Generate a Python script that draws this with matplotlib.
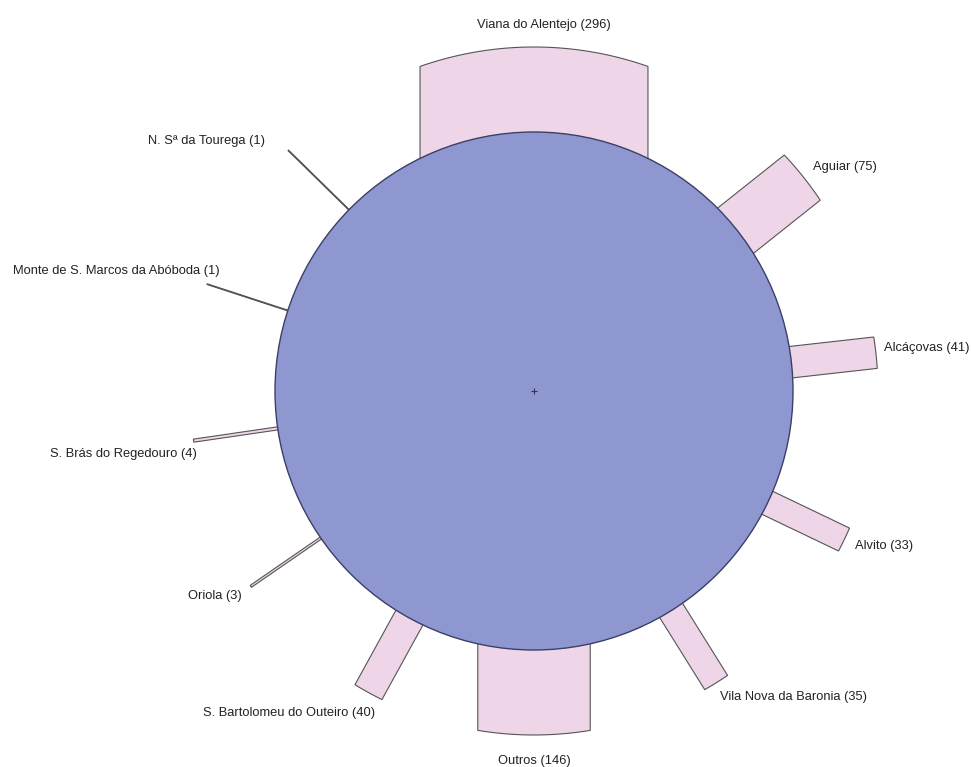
import numpy as np
import matplotlib
matplotlib.use('Agg')
import matplotlib.pyplot as plt
from matplotlib.patches import Polygon, Circle

# ==============================
# データ
# ==============================
labels = ['Viana do Alentejo', 'Aguiar', 'Alcáçovas', 'Alvito',
          'Vila Nova da Baronia', 'Outros', 'S. Bartolomeu do Outeiro',
          'Oriola', 'S. Brás do Regedouro', 'Monte de S. Marcos da Abóboda',
          'N. Sª da Tourega']
values = [296, 75, 41, 33, 35, 146, 40, 3, 4, 1, 1]

# 各バーの方向（度, 反時計回り, 0 = 右）
angles = [90, 38.5, 6.4, -25.6, -58, -90, -118.8, -145.4, -171.7, 161.9, 135.6]

# ラベル位置 (x, y, ha) ピクセル座標
label_pos = [
    (544, 25, 'center'),
    (813, 167, 'left'),
    (884, 348, 'left'),
    (855, 546, 'left'),
    (720, 697, 'left'),
    (534, 761, 'center'),
    (375, 713, 'right'),
    (242, 596, 'right'),
    (197, 454, 'right'),
    (220, 271, 'right'),
    (265, 141, 'right'),
]

# ==============================
# レイアウト
# ==============================
W, H = 971, 767
CX, CY = 534, 391
R_IN = 259
R_OUT = 344
PX_PER_UNIT = 0.77

CIRCLE_FC = '#8E97D0'
CIRCLE_EC = '#3B3F66'
BAR_FC = '#EED6E8'
BAR_EC = '#555555'
FS = 9.3

fig = plt.figure(figsize=(W / 100, H / 100), dpi=100)
ax = fig.add_axes([0, 0, 1, 1])
ax.set_xlim(0, W)
ax.set_ylim(H, 0)
ax.set_aspect('equal')
ax.axis('off')
fig.patch.set_facecolor('white')


def bar_polygon(theta_deg, width):
    hw = width / 2
    v = np.linspace(-hw, hw, 40)
    u = np.sqrt(R_OUT ** 2 - v ** 2)
    us = np.concatenate([[0], u, [0]])
    vs = np.concatenate([[-hw], v, [hw]])
    t = np.radians(theta_deg)
    x = us * np.cos(t) - vs * np.sin(t)
    y = us * np.sin(t) + vs * np.cos(t)
    return np.column_stack([CX + x, CY - y])


for val, ang in zip(values, angles):
    ax.add_patch(Polygon(bar_polygon(ang, val * PX_PER_UNIT), closed=True,
                         facecolor=BAR_FC, edgecolor=BAR_EC, linewidth=0.8,
                         zorder=1))

ax.add_patch(Circle((CX, CY), R_IN, facecolor=CIRCLE_FC, edgecolor=CIRCLE_EC,
                    linewidth=1.0, zorder=2))
ax.plot([CX], [CY], marker='+', color='#333355', markersize=4,
        markeredgewidth=0.8, zorder=3)

for lab, val, (lx, ly, ha) in zip(labels, values, label_pos):
    ax.text(lx, ly, f'{lab} ({val})', ha=ha, va='center', fontsize=FS,
            family=['Liberation Sans', 'DejaVu Sans'], color='#222222',
            zorder=4)

fig.savefig('out.png', dpi=100, facecolor='white')
